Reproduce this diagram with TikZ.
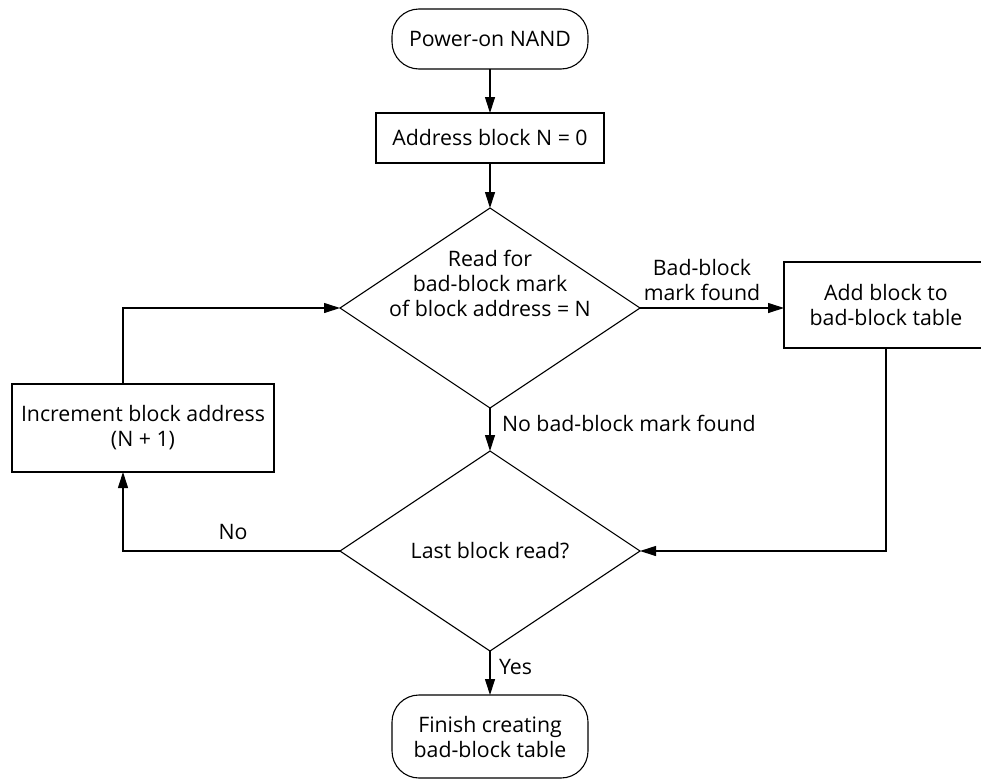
\documentclass[tikz,border=0pt]{standalone}
\usepackage{fontspec}
\setmainfont{Open Sans}
\usetikzlibrary{shapes.geometric,arrows.meta,calc}
\begin{document}
\begin{tikzpicture}[x=1pt,y=-1pt,
  font=\fontsize{21.3}{25}\selectfont,
  every node/.style={inner sep=0pt, outer sep=0pt},
  line/.style={line width=1.1pt, draw=black},
  arr/.style={line, -{Triangle[length=16pt,width=10pt]}},
  termbox/.style={line, rectangle, rounded corners=27pt, align=center},
  procbox/.style={line, rectangle, align=center},
  decbox/.style={line, diamond, minimum width=300pt, minimum height=200pt, aspect=1.5},
  lbl/.style={align=center}
]
\useasboundingbox (0,0) rectangle (981,779);

\node[termbox, minimum width=196pt, minimum height=60pt] (start) at (490,39) {Power-on NAND};
\node[procbox, minimum width=228pt, minimum height=50pt] (addr) at (490,138) {Address block N = 0};
\node[decbox] (d1) at (490,308) {};
\node[lbl] (d1t) at (490,283) {Read for\\bad-block mark\\of block address = N};
\node[procbox, minimum width=204pt, minimum height=86pt] (addb) at (886,305) {Add block to\\bad-block table};
\node[decbox] (d2) at (490,551) {Last block read?};
\node[procbox, minimum width=262pt, minimum height=88pt] (incr) at (143,428) {Increment block address\\(N + 1)};
\node[termbox, minimum width=196pt, minimum height=83pt] (fin) at (490,736.5) {Finish creating\\bad-block table};

\coordinate (lx) at (123,0);

\draw[arr] (start) -- (addr);
\draw[arr] (addr) -- (d1.north);
\draw[arr] (d1.east) -- (d1.east -| addb.west);
\draw[arr] (d1.south) -- (d2.north);
\draw[arr] (addb.south) |- (d2.east);
\draw[arr] (d2.west) -| (incr.south -| lx);
\draw[arr] (incr.north -| lx) |- (d1.west);
\draw[arr] (d2.south) -- (fin.north);

\node[lbl] (lbad) at (702,280) {Bad-block\\mark found};
\node[anchor=west] (lnobad) at (502,423) {No bad-block mark found};
\node (lno) at (233,532) {No};
\node[anchor=west] (lyes) at (499,667) {Yes};
\end{tikzpicture}
\end{document}
